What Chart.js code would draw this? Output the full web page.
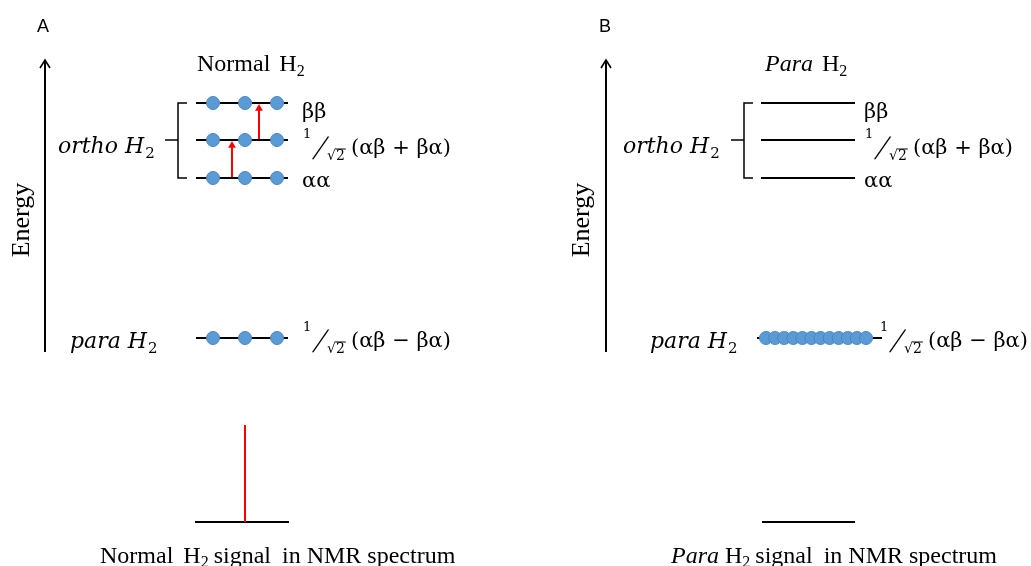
<!DOCTYPE html>
<html>
<head>
<meta charset="utf-8">
<script src="https://cdn.jsdelivr.net/npm/chart.js@4.4.1/dist/chart.umd.min.js"></script>
<style>
html,body{margin:0;padding:0;background:#fff;}
#wrap{width:1031px;height:566px;position:relative;}
</style>
</head>
<body>
<div id="wrap"><canvas id="c"></canvas></div>
<script>
// ---------------- data ----------------
const panels = ['A', 'B'];
const panelTitles = ['Normal', 'Para'];
const captions = ['Normal', 'Para'];
const spinStates = ['ββ', '(αβ + βα)', 'αα', '(αβ − βα)'];
const stateHasFraction = [false, true, false, true];
const stateEnergy = [103, 140, 178, 338];          // energy-axis position of each spin state (diagram units, downward)
const populationNormal = [3, 3, 3, 3];             // molecules drawn on each state, panel A
const populationPara = [0, 0, 0, 12];              // molecules drawn on each state, panel B
const transitionsNormal = [[2, 1], [1, 0]];        // allowed NMR transitions (from state -> to state), panel A
const nmrIntensity = [1, 0];                       // relative NMR signal, panel A / panel B
const populations = [populationNormal, populationPara];
const transitions = [transitionsNormal, []];

// ---------------- layout (pixels) ----------------
const LAYOUT = [
  { letterX: 37, arrowX: 45, energyX: 22, titleX: 197, orthoX: 58, paraLabelX: 70,
    bracketX: 178, lineX0: 196, lineX1: 288, paraX0: 196, paraX1: 288,
    dotFirst: 213, dotLast: 277, labelX: 302, paraStateX: 302, arrowXs: [232, 259],
    specX0: 195, specX1: 289, peakX: 245, captionX: 100 },
  { letterX: 599, arrowX: 606, energyX: 582, titleX: 765, orthoX: 623, paraLabelX: 650,
    bracketX: 744, lineX0: 761, lineX1: 855, paraX0: 757, paraX1: 882,
    dotFirst: 766, dotLast: 866, labelX: 864, paraStateX: 879, arrowXs: [],
    specX0: 762, specX1: 855, peakX: 808, captionX: 671 }
];
const Y = { letter: 32, title: 71, arrowTop: 60, arrowBottom: 352, energy: 220,
            specBase: 522, peakHeight: 97, caption: 563 };
const LABEL_BASE = [15, 14, 9, 9];
const DOT_FILL = '#5B9BD5', DOT_EDGE = '#4A86C2';

// ---------------- datasets ----------------
const datasets = [];
function seg(points, color, width, order) {
  datasets.push({ data: points, showLine: true, borderColor: color, borderWidth: width,
    pointRadius: 0, fill: false, tension: 0, order: order, borderCapStyle: 'butt' });
}

panels.forEach((p, pi) => {
  const L = LAYOUT[pi];
  // energy axis arrow
  seg([{x: L.arrowX, y: Y.arrowBottom}, {x: L.arrowX, y: Y.arrowTop}], '#000', 2, 5);
  seg([{x: L.arrowX - 5, y: Y.arrowTop + 8}, {x: L.arrowX, y: Y.arrowTop}, {x: L.arrowX + 5, y: Y.arrowTop + 8}], '#000', 1.6, 5);
  // bracket for ortho states
  const eTop = stateEnergy[0], eMid = stateEnergy[1], eBot = stateEnergy[2];
  seg([{x: L.bracketX + 9, y: eTop}, {x: L.bracketX, y: eTop}, {x: L.bracketX, y: eBot}, {x: L.bracketX + 9, y: eBot}], '#000', 1.5, 5);
  seg([{x: L.bracketX - 13, y: eMid}, {x: L.bracketX, y: eMid}], '#000', 1.5, 5);
  // energy levels
  spinStates.forEach((s, si) => {
    const para = si === 3;
    const x0 = para ? L.paraX0 : L.lineX0, x1 = para ? L.paraX1 : L.lineX1;
    seg([{x: x0, y: stateEnergy[si]}, {x: x1, y: stateEnergy[si]}], '#000', 2, 4);
  });
  // molecules on levels
  const dots = [];
  populations[pi].forEach((n, si) => {
    for (let i = 0; i < n; i++) {
      const t = n > 1 ? i / (n - 1) : 0.5;
      dots.push({x: L.dotFirst + t * (L.dotLast - L.dotFirst), y: stateEnergy[si]});
    }
  });
  if (dots.length) {
    datasets.push({ data: dots, showLine: false, pointRadius: 6.5, pointBackgroundColor: DOT_FILL,
      pointBorderColor: DOT_EDGE, pointBorderWidth: 1, order: 1 });
  }
  // transitions (red arrows)
  transitions[pi].forEach((tr, ti) => {
    const ax = L.arrowXs[ti];
    const yFrom = stateEnergy[tr[0]], yTo = stateEnergy[tr[1]];
    const r = 4.5;
    datasets.push({ data: [{x: ax, y: yFrom - 1}, {x: ax, y: yTo + 1 + r}], showLine: true,
      borderColor: '#FF0000', borderWidth: 2, pointStyle: 'triangle', pointRadius: [0, r],
      pointBackgroundColor: '#FF0000', pointBorderColor: '#FF0000', pointBorderWidth: 0, order: 2 });
  });
  // NMR spectrum
  seg([{x: L.specX0, y: Y.specBase}, {x: L.specX1, y: Y.specBase}], '#000', 2, 4);
  if (nmrIntensity[pi] > 0) {
    seg([{x: L.peakX, y: Y.specBase}, {x: L.peakX, y: Y.specBase - nmrIntensity[pi] * Y.peakHeight}], '#FF0000', 2, 3);
  }
});

// ---------------- text ----------------
const SERIF = '"Liberation Serif", "Times New Roman", serif';
const MATH = '"DejaVu Serif", serif';
const SANS = '"Liberation Sans", Arial, sans-serif';
function flow(ctx, x0, y0, parts) {
  let cx = x0;
  parts.forEach(p => {
    ctx.font = p.f;
    if (p.at !== undefined) cx = x0 + p.at;
    const w = ctx.measureText(p.t).width;
    ctx.save();
    ctx.translate(cx, y0 + (p.dy || 0));
    if (p.skew) ctx.transform(1, 0, -p.skew, 1, 0, 0);
    ctx.fillText(p.t, 0, 0);
    ctx.restore();
    if (p.over) {
      const ws = ctx.measureText('√').width;
      ctx.save();
      ctx.strokeStyle = '#000'; ctx.lineWidth = 1;
      ctx.beginPath();
      ctx.moveTo(cx + ws - 0.5, y0 + p.dy - p.over);
      ctx.lineTo(cx + w + 1, y0 + p.dy - p.over);
      ctx.stroke();
      ctx.restore();
    }
    cx += w + (p.gap || 0);
  });
}
function fractionParts(rest) {
  return [
    { t: '1', f: `13px ${MATH}`, at: 1, dy: -16 },
    { t: '/', f: `34px ${SERIF}`, at: 10, dy: 5, skew: 0.35 },
    { t: '√2', f: `14px ${MATH}`, at: 25, dy: 6, over: 11 },
    { t: rest, f: `21px ${MATH}`, at: 49 }
  ];
}

const textPlugin = {
  id: 'diagramText',
  afterDatasetsDraw(chart) {
    const { ctx, scales: { x, y } } = chart;
    const px = v => x.getPixelForValue(v), py = v => y.getPixelForValue(v);
    ctx.save();
    ctx.fillStyle = '#000';
    ctx.textAlign = 'left';
    ctx.textBaseline = 'alphabetic';
    panels.forEach((p, pi) => {
      const L = LAYOUT[pi];
      // panel letter
      ctx.font = `18px ${SANS}`;
      ctx.fillText(p, px(L.letterX), py(Y.letter));
      // Energy label
      ctx.save();
      ctx.translate(px(L.energyX), py(Y.energy));
      ctx.rotate(-Math.PI / 2);
      ctx.textAlign = 'center';
      ctx.textBaseline = 'middle';
      ctx.font = `26px ${SERIF}`;
      ctx.fillText('Energy', 0, 0);
      ctx.restore();
      // title
      const titleItalic = pi === 1;
      flow(ctx, px(L.titleX), py(Y.title), [
        { t: panelTitles[pi], f: `${titleItalic ? 'italic ' : ''}24px ${SERIF}`, gap: 9 },
        { t: 'H', f: `24px ${SERIF}` },
        { t: '2', f: `16px ${SERIF}`, dy: 5 }
      ]);
      // ortho / para group labels
      flow(ctx, px(L.orthoX), py(stateEnergy[1] + 13), [
        { t: 'ortho', f: `italic 22px ${MATH}`, gap: 7 },
        { t: 'H', f: `italic 22px ${MATH}`, gap: 1 },
        { t: '2', f: `15px ${MATH}`, dy: 5 }
      ]);
      flow(ctx, px(L.paraLabelX), py(stateEnergy[3] + 10), [
        { t: 'para', f: `italic 22px ${MATH}`, gap: 7 },
        { t: 'H', f: `italic 22px ${MATH}`, gap: 1 },
        { t: '2', f: `15px ${MATH}`, dy: 5 }
      ]);
      // spin state labels
      spinStates.forEach((s, si) => {
        const lx = si === 3 ? L.paraStateX : L.labelX;
        const ly = py(stateEnergy[si] + LABEL_BASE[si]);
        if (stateHasFraction[si]) flow(ctx, px(lx), ly, fractionParts(s));
        else flow(ctx, px(lx), ly, [{ t: s, f: `21px ${MATH}` }]);
      });
      // caption
      flow(ctx, px(L.captionX), py(Y.caption), [
        { t: captions[pi], f: `${titleItalic ? 'italic ' : ''}24px ${SERIF}`, gap: titleItalic ? 6 : 10 },
        { t: 'H', f: `24px ${SERIF}` },
        { t: '2', f: `16px ${SERIF}`, dy: 4, gap: 5 },
        { t: 'signal', f: `24px ${SERIF}`, gap: 11 },
        { t: 'in NMR spectrum', f: `24px ${SERIF}` }
      ]);
    });
    ctx.restore();
  }
};

new Chart(document.getElementById('c'), {
  type: 'scatter',
  data: { datasets },
  options: {
    responsive: true,
    maintainAspectRatio: false,
    animation: false,
    events: [],
    layout: { padding: 0, autoPadding: false },
    plugins: { legend: { display: false }, tooltip: { enabled: false } },
    scales: {
      x: { type: 'linear', min: 0, max: 1031, display: false },
      y: { type: 'linear', min: 0, max: 566, reverse: true, display: false }
    }
  },
  plugins: [textPlugin]
});
</script>
</body>
</html>
